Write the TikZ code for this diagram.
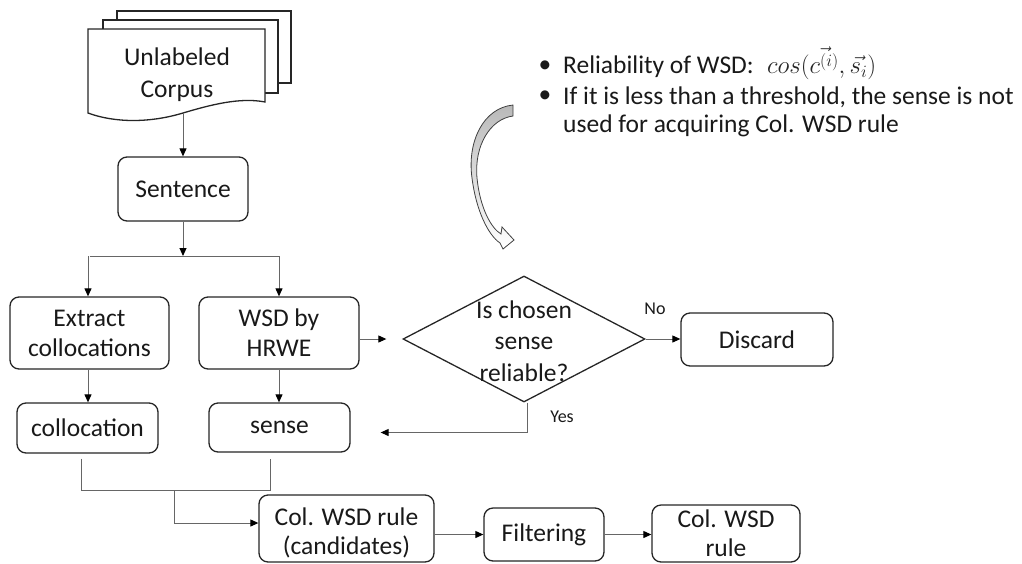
\documentclass[tikz,border=0pt]{standalone}
\usepackage{fontspec}
\setmainfont{Carlito}
\usetikzlibrary{arrows.meta,shapes.geometric}
\begin{document}
\begin{tikzpicture}[x=1pt,y=-1pt,
  box/.style={draw=black!85, line width=1.3pt, rounded corners=9pt, fill=white, align=center, inner sep=0pt, font=\fontsize{25.5}{30}\selectfont, text=black!90},
  txt/.style={align=center, inner sep=0pt, font=\fontsize{25.5}{29}\selectfont, text=black!90},
  sheet/.style={draw=black!85, line width=1.3pt, fill=white},
  conn/.style={draw=black!60, line width=1pt},
  arr/.style={conn, -{Triangle[length=8pt,width=7pt,color=black]}},
  lbl/.style={font=\fontsize{18}{20}\selectfont, inner sep=0pt, text=black!90},
  btxt/.style={font=\fontsize{25.5}{29}\selectfont, inner sep=0pt, anchor=west, text=black!90}
]
\useasboundingbox (0,0) rectangle (1022,563);

% multi-document
\draw[sheet] (117,11) rectangle (291,83);
\draw[sheet] (103,20) rectangle (278,93);
\draw[sheet] (88,29) -- (265,29) -- (265,102) .. controls (240,97) and (210,105) .. (183,113) .. controls (150,123) and (115,123) .. (88,113) -- cycle;
\node[txt, font=\fontsize{25.5}{32}\selectfont] (doctext) at (177,75) {Unlabeled\\Corpus};
\coordinate (docb) at (183,113);

% boxes
\node[box, minimum width=130pt, minimum height=64pt] (sent) at (183,189) {Sentence};
\node[box, minimum width=159pt, minimum height=72pt] (extract) at (89.5,333) {Extract\\collocations};
\node[box, minimum width=160pt, minimum height=72pt] (wsd) at (279,333) {WSD by\\HRWE};
\node[box, minimum width=141pt, minimum height=50pt] (colloc) at (87.5,428) {collocation};
\node[box, minimum width=141pt, minimum height=49pt] (sense) at (279.5,427.5) {sense};
\node[box, minimum width=152pt, minimum height=53pt] (discard) at (757,339.5) {Discard};
\node[box, minimum width=175pt, minimum height=67pt] (cand) at (346.5,528.5) {};
\node[txt] (candtxt) at (346.5,533) {Col. WSD rule\\(candidates)};
\node[box, minimum width=120pt, minimum height=53pt] (filter) at (544,534.5) {Filtering};
\node[box, minimum width=148pt, minimum height=57pt] (final) at (726,533.5) {};
\node[txt] (finaltxt) at (726,533) {Col. WSD\\rule};

% decision
\node[diamond, draw=black!85, line width=1.3pt, minimum width=242pt, minimum height=126pt, inner sep=0pt] (dia) at (524,339) {};
\node[txt, font=\fontsize{25.5}{31.5}\selectfont] (diatxt) at (524,341) {Is chosen\\sense\\reliable?};

% connectors
\coordinate (split) at (183,256);
\draw[arr] (docb) -- (docb |- sent.north);
\draw[arr] (sent.south) -- (split);
\draw[conn] (extract.north |- split) -- (wsd.north |- split);
\draw[arr] ([xshift=-1.5pt]extract.north |- split) -- ([xshift=-1.5pt]extract.north);
\draw[arr] (wsd.north |- split) -- (wsd.north);
\coordinate (diain) at ([xshift=-16pt]dia.west);
\draw[arr] ([yshift=-6pt]wsd.east) -- (diain);
\draw[arr] (dia.east) -- (dia.east -| discard.west);
\node[lbl] (no) at (655,309) {No};
\coordinate (yesend) at ([xshift=30pt,yshift=-5pt]sense.east);
\draw[arr] ([xshift=3pt]dia.south) |- (yesend);
\node[lbl] (yes) at (562,417) {Yes};
\draw[arr] ([xshift=-1.5pt]extract.south) -- ([xshift=-1.5pt]extract.south |- colloc.north);
\draw[arr] (wsd.south) -- (wsd.south |- sense.north);
\draw[conn] ([shift={(-6.5pt,-5pt)}]colloc.south) -- ++(0,32) -| ([shift={(-9.5pt,-6pt)}]sense.south);
\coordinate (mid) at (174,490);
\draw[arr] (mid) |- ([yshift=5.5pt]cand.west);
\draw[arr] (cand.east |- filter.west) -- (filter.west);
\draw[arr] (filter.east) -- (filter.east -| final.west);

% bullets
\node[btxt, anchor=center] (b1) at (545,67) {•};
\node[btxt, anchor=center] (b2) at (545,97) {•};
\node[btxt] (t1) at (563,67) {Reliability of WSD:};
\node[inner sep=0pt, anchor=west, font=\fontsize{25}{28}\selectfont, text=black!85] (formula) at (767,63) {$cos(\vec{c^{(i)}},\vec{s_i})$};
\node[btxt] (t2) at (563,97) {If it is less than a threshold, the sense is not};
\node[btxt] (t3) at (563,126) {used for acquiring Col. WSD rule};

% curved block arrow
\draw[black!75, line width=0.8pt, top color=gray!55, bottom color=white]
  (513,105) .. controls (483,108) and (467,142) .. (472,178)
  .. controls (476,210) and (488,235) .. (500,243)
  -- (503,249) -- (514,240) -- (502,227) -- (501,234)
  .. controls (491,228) and (480,208) .. (477,178)
  .. controls (474,146) and (490,119) .. (513,116) -- cycle;
\end{tikzpicture}
\end{document}
